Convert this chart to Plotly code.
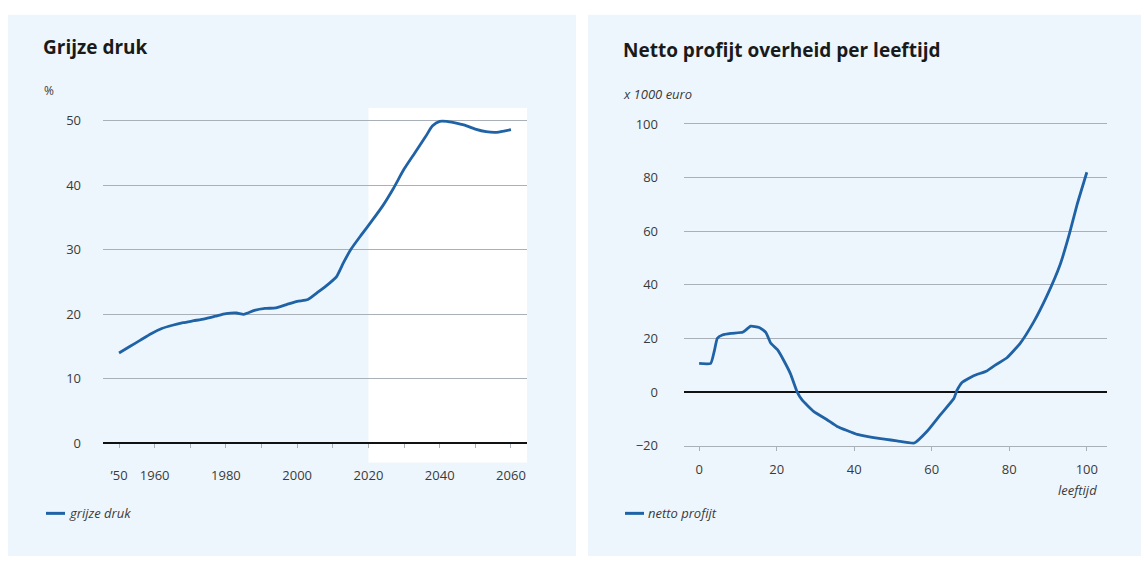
import plotly.graph_objects as go

# ---- Data: grijze druk (%)
years = [1950, 1953, 1956, 1959, 1962, 1965, 1968, 1971, 1974, 1977, 1980, 1983, 1985,
         1988, 1991, 1994, 1997, 2000, 2003, 2006, 2009, 2011, 2013, 2015, 2018, 2021,
         2024, 2027, 2030, 2033, 2036, 2038, 2040, 2042, 2044, 2047, 2050, 2053, 2056,
         2058, 2060]
grijze_druk = [14.0, 15.0, 16.0, 17.0, 17.8, 18.3, 18.7, 19.0, 19.3, 19.7, 20.1, 20.2, 20.0,
               20.6, 20.9, 21.0, 21.5, 22.0, 22.3, 23.5, 24.8, 25.8, 28.0, 30.0, 32.3, 34.5,
               36.8, 39.5, 42.5, 45.0, 47.5, 49.2, 49.9, 49.9, 49.7, 49.3, 48.7, 48.3, 48.2,
               48.4, 48.6]
left_tickvals = [1950, 1960, 1980, 2000, 2020, 2040, 2060]
left_ticktext = ["’50", "1960", "1980", "2000", "2020", "2040", "2060"]
left_minor_ticks = [1950, 1960, 1970, 1980, 1990, 2000, 2010, 2020, 2030, 2040, 2050, 2060]
left_yticks = [0, 10, 20, 30, 40, 50]

# ---- Data: netto profijt overheid per leeftijd (x 1000 euro)
ages = [0, 3, 3.9, 4.7, 6, 8.2, 11.2, 12, 13.3, 15.5, 17.2, 18.5, 20.2, 21.9, 23.6, 25.3,
        26.6, 29.6, 33, 35.6, 40.8, 46.8, 51, 55.5, 58.8, 62.2, 65.7, 66.5, 67.8, 70.8,
        74.2, 76, 79.4, 82.8, 86.3, 89.7, 93.1, 95.5, 97.5, 100]
netto_profijt = [10.7, 10.7, 15.2, 20.1, 21.3, 21.9, 22.3, 23.1, 24.6, 24.1, 22.3, 18.2,
                 15.8, 11.6, 6.7, 0.0, -3.0, -7.3, -10.3, -12.8, -15.8, -17.4, -18.2, -19.0,
                 -14.6, -8.5, -2.4, 0.6, 3.6, 6.1, 7.9, 9.7, 12.8, 18.2, 26.2, 35.9, 47.5,
                 59.0, 70.0, 82.0]
right_xticks = [0, 20, 40, 60, 80, 100]
right_yticks = [-20, 0, 20, 40, 60, 80, 100]
right_yticktext = ["−20", "0", "20", "40", "60", "80", "100"]

W, H = 1141, 569
LINE = "#1f63a6"
CARD = "#eef6fd"
GRID = "#a9b0b7"
TXT = "#3a3a3a"
FONT = "Open Sans"

def px(x):
    return x / W

def py(y):
    return 1 - y / H

fig = go.Figure()
fig.add_trace(go.Scatter(x=years, y=grijze_druk, mode="lines", xaxis="x", yaxis="y",
                         line=dict(color=LINE, width=2.8, shape="spline", smoothing=0.6),
                         showlegend=False, hoverinfo="skip"))
fig.add_trace(go.Scatter(x=ages, y=netto_profijt, mode="lines", xaxis="x2", yaxis="y2",
                         line=dict(color=LINE, width=2.8, shape="spline", smoothing=0.4),
                         showlegend=False, hoverinfo="skip"))
# empty trace so the overlaid tick-mark axis on the zero line is drawn
fig.add_trace(go.Scatter(x=[years[0]], y=[None], mode="lines", xaxis="x3", yaxis="y",
                         showlegend=False, hoverinfo="skip"))

tickfont = dict(family=FONT, size=13, color=TXT)

shapes = [
    dict(type="rect", xref="paper", yref="paper", x0=px(8), x1=px(576), y0=py(565), y1=py(8),
         fillcolor=CARD, line=dict(width=0), layer="below"),
    dict(type="rect", xref="paper", yref="paper", x0=px(588), x1=1, y0=py(565), y1=py(8),
         fillcolor=CARD, line=dict(width=0), layer="below"),
    dict(type="rect", xref="x", yref="y", x0=2020, x1=2064.5, y0=-3, y1=52,
         fillcolor="white", line=dict(width=0), layer="below"),
    # legend samples
    dict(type="line", xref="paper", yref="paper", x0=px(46), x1=px(65), y0=py(521), y1=py(521),
         line=dict(color=LINE, width=3)),
    dict(type="line", xref="paper", yref="paper", x0=px(625), x1=px(644), y0=py(521), y1=py(521),
         line=dict(color=LINE, width=3)),
]

annotations = [
    dict(text="<b>Grijze druk</b>", xref="paper", yref="paper", x=px(41), y=py(41),
         xanchor="left", yanchor="middle", showarrow=False,
         font=dict(family=FONT, size=19, color="#1a1a1a")),
    dict(text="<b>Netto profijt overheid per leeftijd</b>", xref="paper", yref="paper",
         x=px(621), y=py(44), xanchor="left", yanchor="middle", showarrow=False,
         font=dict(family=FONT, size=19, color="#1a1a1a")),
    dict(text="%", xref="paper", yref="paper", x=px(42), y=py(86), xanchor="left",
         yanchor="middle", showarrow=False, font=dict(family=FONT, size=12, color=TXT)),
    dict(text="<i>x 1000 euro</i>", xref="paper", yref="paper", x=px(621), y=py(90),
         xanchor="left", yanchor="middle", showarrow=False,
         font=dict(family=FONT, size=13, color=TXT)),
    dict(text="<i>leeftijd</i>", xref="paper", yref="paper", x=px(1099), y=py(497),
         xanchor="right", yanchor="middle", showarrow=False,
         font=dict(family=FONT, size=13, color=TXT)),
    dict(text="<i>grijze druk</i>", xref="paper", yref="paper", x=px(67), y=py(521),
         xanchor="left", yanchor="middle", showarrow=False,
         font=dict(family=FONT, size=13, color=TXT)),
    dict(text="<i>netto profijt</i>", xref="paper", yref="paper", x=px(646), y=py(521),
         xanchor="left", yanchor="middle", showarrow=False,
         font=dict(family=FONT, size=13, color=TXT)),
]

ly_bottom, ly_top = py(468.9), py(103.7)
fig.update_layout(
    width=W, height=H,
    margin=dict(l=0, r=0, t=0, b=0),
    paper_bgcolor="white", plot_bgcolor="rgba(0,0,0,0)",
    showlegend=False,
    shapes=shapes, annotations=annotations,
    xaxis=dict(domain=[px(103), px(527)], range=[1945.5, 2064.5], anchor="y",
               tickvals=left_tickvals, ticktext=left_ticktext, showgrid=False,
               zeroline=False, showline=False, ticks="", tickfont=tickfont,
               ticklabelstandoff=3),
    xaxis3=dict(overlaying="x", anchor="free", position=ly_bottom + (3 / 55) * (ly_top - ly_bottom),
                range=[1945.5, 2064.5], tickvals=left_minor_ticks, ticks="outside", ticklen=4,
                tickcolor=GRID, showticklabels=False, showgrid=False, zeroline=False,
                showline=False),
    yaxis=dict(domain=[ly_bottom, ly_top], range=[-3, 52], anchor="x",
               tickvals=left_yticks, showgrid=True, gridcolor=GRID, gridwidth=1,
               zeroline=True, zerolinecolor="#111111", zerolinewidth=2, showline=False,
               ticks="", tickfont=tickfont, ticklabelstandoff=21),
    xaxis2=dict(domain=[px(684), px(1107)], range=[-3.9, 105.2], anchor="y2",
                tickvals=right_xticks, showgrid=False, zeroline=False, showline=True,
                linecolor=GRID, linewidth=1, ticks="outside", ticklen=4, tickcolor=GRID,
                tickfont=tickfont, ticklabelstandoff=8),
    yaxis2=dict(domain=[py(451.4), py(117.6)], range=[-20, 101], anchor="x2",
                tickvals=right_yticks, ticktext=right_yticktext, showgrid=True,
                gridcolor=GRID, gridwidth=1, zeroline=True, zerolinecolor="#111111",
                zerolinewidth=2, showline=False, ticks="", tickfont=tickfont,
                ticklabelstandoff=25),
)

post = (
    "document.documentElement.style.margin='0';"
    "document.documentElement.style.overflow='hidden';"
    "document.body.style.margin='0';"
    "document.body.style.overflow='hidden';"
    "var d=document.getElementById('{plot_id}');"
    "d.style.position='fixed';d.style.left='0px';d.style.top='0px';"
)
fig.write_html("out.html", config={"displayModeBar": False}, post_script=post)
